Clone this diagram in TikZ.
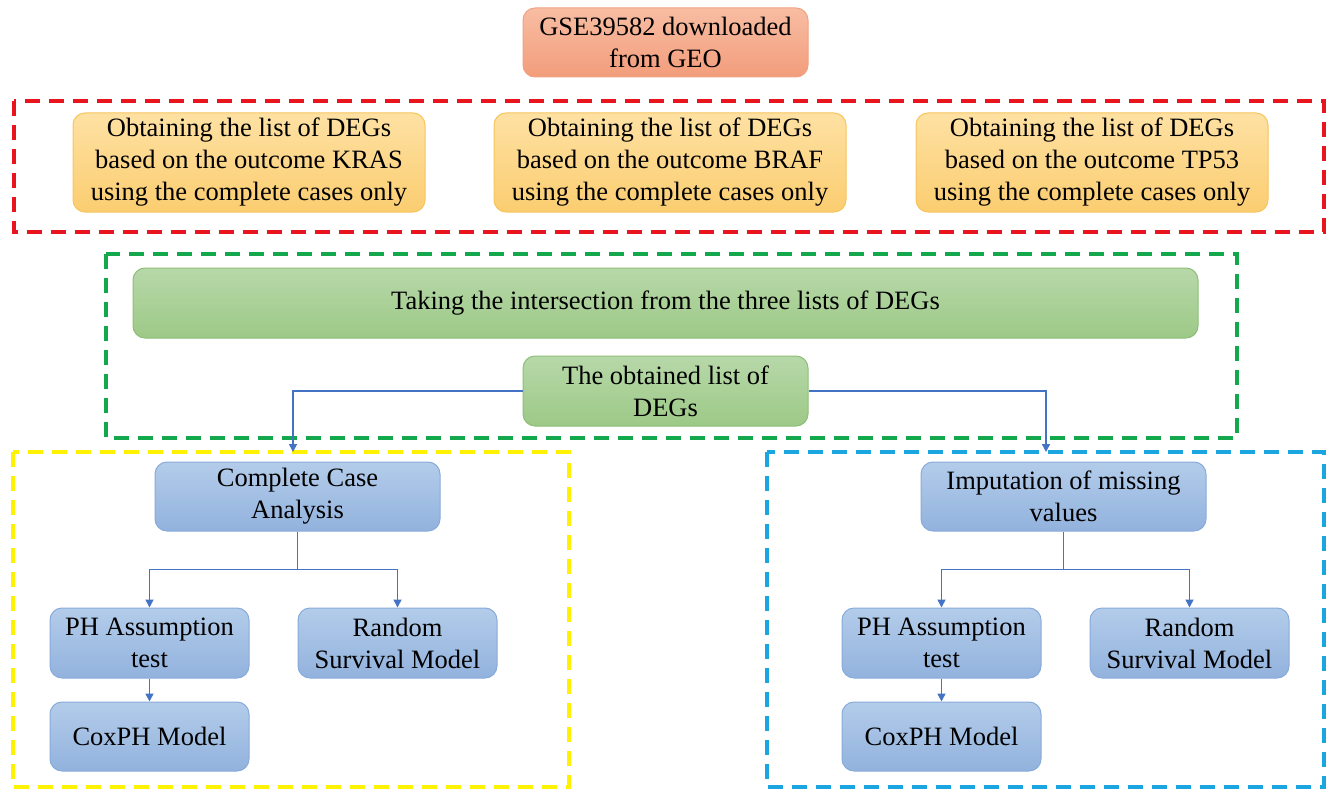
\documentclass[tikz,border=0pt]{standalone}
\usepackage{fontspec}
\setmainfont{Liberation Serif}
\usetikzlibrary{arrows.meta,calc}
\definecolor{salT}{HTML}{F8BDA3}
\definecolor{salB}{HTML}{F29D7B}
\definecolor{salD}{HTML}{F1A283}
\definecolor{yelT}{HTML}{FEE1A3}
\definecolor{yelB}{HTML}{FBCD70}
\definecolor{yelD}{HTML}{F6C55C}
\definecolor{grnT}{HTML}{B7D8A9}
\definecolor{grnB}{HTML}{9DC987}
\definecolor{grnD}{HTML}{8EBF77}
\definecolor{bluT}{HTML}{B3CCEA}
\definecolor{bluB}{HTML}{92B2DD}
\definecolor{bluD}{HTML}{88ABDA}
\definecolor{arrC}{HTML}{4472C4}
\definecolor{frRed}{HTML}{E8141E}
\definecolor{frGrn}{HTML}{12A84B}
\definecolor{frYel}{HTML}{FFF200}
\definecolor{frBlu}{HTML}{1CA6E0}
\tikzset{
  x=1pt, y=-1pt,
  txt/.style={font=\fontsize{26.5}{32}\selectfont, align=center, inner sep=0pt},
  box/.style={txt, rounded corners=12pt, line width=1pt},
  salbox/.style={box, draw=salD, top color=salT, bottom color=salB},
  yelbox/.style={box, draw=yelD, top color=yelT, bottom color=yelB},
  grnbox/.style={box, draw=grnD, top color=grnT, bottom color=grnB},
  blubox/.style={box, draw=bluD, top color=bluT, bottom color=bluB},
  frame/.style={line width=3.5pt, dash pattern=on 15pt off 9pt},
  conn/.style={draw=arrC, line width=1.6pt},
  arr/.style={conn, -{Triangle[length=8pt,width=8pt]}},
}
\begin{document}
\begin{tikzpicture}
\useasboundingbox (0,0) rectangle (1330,789);
% frames
\draw[frame, frRed] (14,101) rectangle (1324,232);
\draw[frame, frGrn] (106,254) rectangle (1237,438);
\draw[frame, frYel] (13,452) rectangle (569,787);
\draw[frame, frBlu] (767,452) rectangle (1324,787);
% top
\node[salbox, minimum width=285pt, minimum height=69pt] (geo) at (665.5,42.5) {GSE39582 downloaded\\from GEO};
% yellow
\node[yelbox, minimum width=352pt, minimum height=99pt] (kras) at (249,162.5) {Obtaining the list of DEGs\\based on the outcome KRAS\\using the complete cases only};
\node[yelbox, minimum width=352pt, minimum height=99pt] (braf) at (670,162.5) {Obtaining the list of DEGs\\based on the outcome BRAF\\using the complete cases only};
\node[yelbox, minimum width=352pt, minimum height=99pt] (tp53) at (1092,162.5) {Obtaining the list of DEGs\\based on the outcome TP53\\using the complete cases only};
% green
\node[grnbox, minimum width=1065pt, minimum height=70pt] (inter) at (665.5,303) {Taking the intersection from the three lists of DEGs};
\node[grnbox, minimum width=285pt, minimum height=70pt] (obt) at (665.5,391) {The obtained list of\\DEGs};
% left branch
\node[blubox, minimum width=285pt, minimum height=69pt] (cca) at (297.5,496.5) {\raisebox{-4pt}{\parbox{250pt}{\centering Complete Case\\Analysis}}};
\node[blubox, minimum width=199pt, minimum height=70pt] (ph1) at (149.5,643) {\raisebox{-2pt}{\parbox{190pt}{\centering PH Assumption\\test}}};
\node[blubox, minimum width=199pt, minimum height=70pt] (rs1) at (397.5,643) {\raisebox{-2pt}{\parbox{190pt}{\centering Random\\Survival Model}}};
\node[blubox, minimum width=199pt, minimum height=69pt] (cox1) at (149.5,736.5) {CoxPH Model};
% right branch
\node[blubox, minimum width=285pt, minimum height=69pt] (imp) at (1063.5,496.5) {Imputation of missing\\values};
\node[blubox, minimum width=199pt, minimum height=70pt] (ph2) at (941.5,643) {\raisebox{-2pt}{\parbox{190pt}{\centering PH Assumption\\test}}};
\node[blubox, minimum width=199pt, minimum height=70pt] (rs2) at (1189.5,643) {\raisebox{-2pt}{\parbox{190pt}{\centering Random\\Survival Model}}};
\node[blubox, minimum width=199pt, minimum height=69pt] (cox2) at (941.5,736.5) {CoxPH Model};
% connectors
\coordinate (lt) at (293,452);
\coordinate (rt) at (1046,452);
\draw[arr] (obt.west) -| (lt);
\draw[arr] (obt.east) -| (rt);
\coordinate (cj) at ($(cca.south)+(0,38)$);
\draw[conn] (cca.south) -- (cj);
\draw[arr] (cj) -| (ph1.north);
\draw[arr] (cj) -| (rs1.north);
\draw[arr] (ph1.south) -- (cox1.north);
\coordinate (ij) at ($(imp.south)+(0,38)$);
\draw[conn] (imp.south) -- (ij);
\draw[arr] (ij) -| (ph2.north);
\draw[arr] (ij) -| (rs2.north);
\draw[arr] (ph2.south) -- (cox2.north);
\end{tikzpicture}
\end{document}
